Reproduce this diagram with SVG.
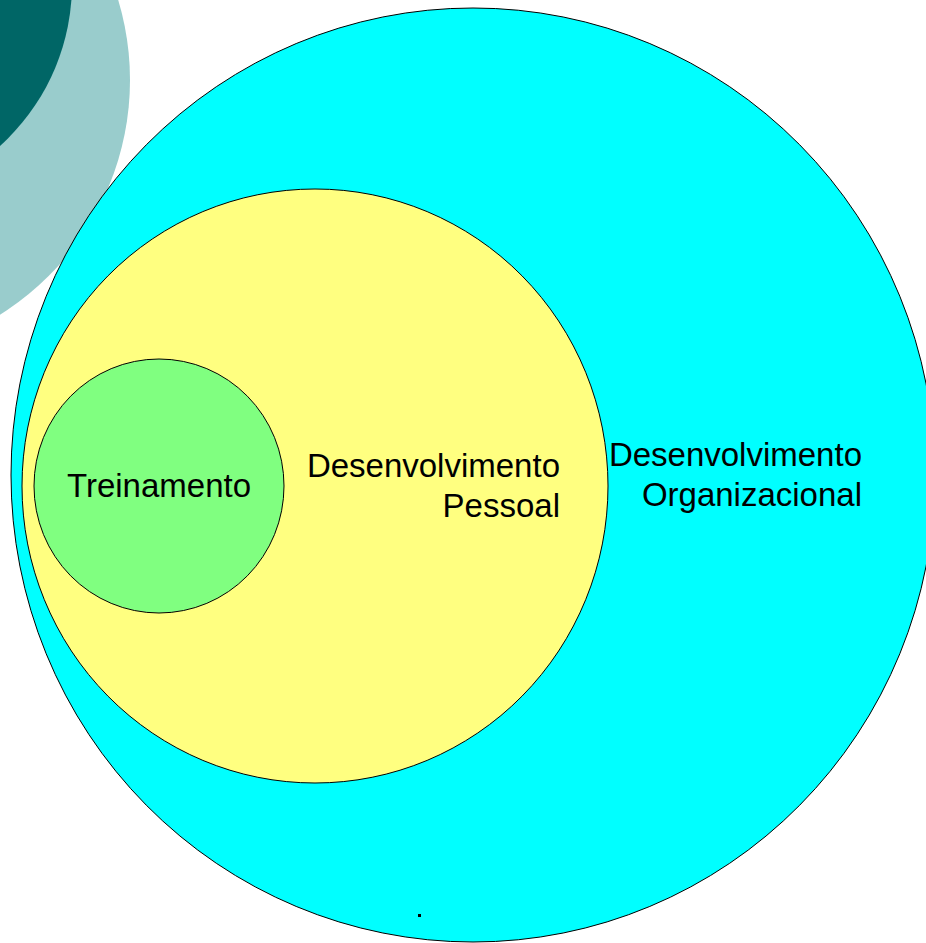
<svg xmlns="http://www.w3.org/2000/svg" width="926" height="943" viewBox="0 0 926 943">
<style>
.lbl{font-family:"Liberation Sans",Arial,sans-serif;font-size:33px;fill:#000}
.ring{stroke:#000;stroke-width:1}
</style>
<rect width="926" height="943" fill="#fff"/>
<g id="decor">
<circle cx="-147" cy="80" r="277" fill="#99CCCC"/>
<circle cx="-146" cy="-16" r="218" fill="#006666"/>
</g>
<g id="node-organizacional">
<ellipse class="ring" cx="473" cy="475" rx="462" ry="467" fill="#00FFFF"/>
<text class="lbl" text-anchor="end"><tspan x="862" y="466">Desenvolvimento</tspan><tspan x="862" y="506">Organizacional</tspan></text>
</g>
<g id="node-pessoal">
<ellipse class="ring" cx="315" cy="486" rx="293" ry="297" fill="#FFFF80"/>
<text class="lbl" text-anchor="end"><tspan x="560" y="477">Desenvolvimento</tspan><tspan x="560" y="517">Pessoal</tspan></text>
</g>
<g id="node-treinamento">
<ellipse class="ring" cx="159" cy="486" rx="125" ry="127" fill="#80FF80"/>
<text class="lbl" x="159" y="497" text-anchor="middle">Treinamento</text>
</g>
<g id="connectors"></g>
<rect x="418" y="914" width="3" height="3" fill="#000"/>
</svg>
